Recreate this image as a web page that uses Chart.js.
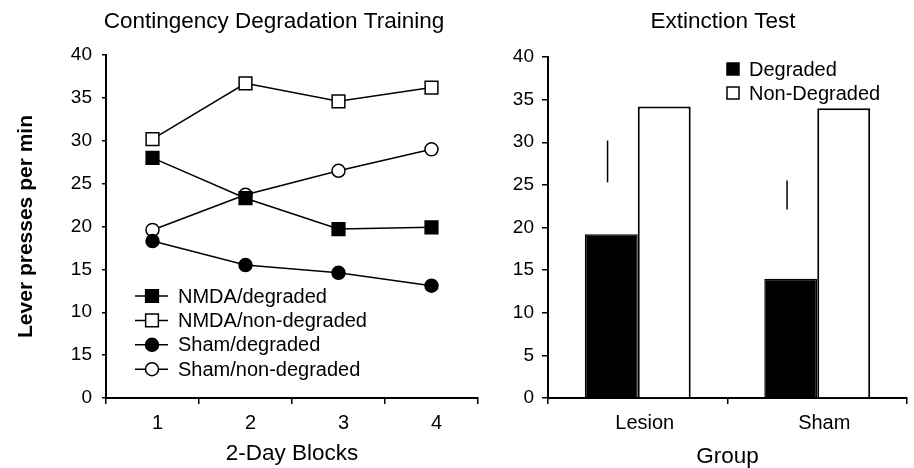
<!DOCTYPE html>
<html>
<head>
<meta charset="utf-8">
<script src="https://cdn.jsdelivr.net/npm/chart.js@4.4.1/dist/chart.umd.min.js"></script>
<style>
    html, body { margin: 0; padding: 0; background: #fff; overflow: hidden; width: 914px; height: 468px; }
    #left { position: absolute; left: 0; top: 0; }
    #right { position: absolute; left: 500px; top: 0; }
</style>
</head>
<body>
<canvas id="left" width="548" height="468"></canvas>
<canvas id="right" width="446" height="468"></canvas>
<script>
// left panel: training
const blocks = ['1', '2', '3', '4'];
const nmdaDegraded = [28.0, 23.3, 19.7, 19.9];
const nmdaNonDegraded = [30.2, 36.7, 34.6, 36.2];
const shamDegraded = [18.3, 15.5, 14.6, 13.1];
const shamNonDegraded = [19.6, 23.7, 26.5, 29.0];
// the printed figure labels the 5 tick as "15", kept as printed
const trainingTicks = ['0', '15', '10', '15', '20', '25', '30', '35', '40'];

// right panel: extinction test
const groups = ['Lesion', 'Sham'];
const degradedTest = [19.2, 14.0];
const nonDegradedTest = [34.2, 34.0];
const errLow = [25.3, 22.1];
const errHigh = [30.2, 25.5];
const testTicks = ['0', '5', '10', '15', '20', '25', '30', '35', '40'];

Chart.defaults.font.family = '"Liberation Sans", Arial, sans-serif';
Chart.defaults.color = '#000';

// legend with line + marker, drawn inside the plot
const lineLegend = {
    id: 'lineLegend',
    afterDraw(chart) {
        const { ctx, chartArea } = chart;
        ctx.save();
        chart.data.datasets.forEach((ds, i) => {
            const y = chartArea.top + 241 + i * 24.4;
            const x0 = chartArea.left + 29;
            ctx.strokeStyle = '#000';
            ctx.lineWidth = 1.5;
            ctx.beginPath();
            ctx.moveTo(x0, y);
            ctx.lineTo(x0 + 33, y);
            ctx.stroke();
            ctx.fillStyle = ds.pointBackgroundColor;
            Chart.helpers.drawPoint(ctx, {
                pointStyle: ds.pointStyle, radius: ds.pointRadius, rotation: 0, borderWidth: 1.5
            }, x0 + 17, y);
            ctx.fillStyle = '#000';
            ctx.font = '20px "Liberation Sans", Arial, sans-serif';
            ctx.textBaseline = 'middle';
            ctx.fillText(ds.label, x0 + 43, y + 1);
        });
        ctx.restore();
    }
};

// square legend for the bar panel
const boxLegend = {
    id: 'boxLegend',
    afterDraw(chart) {
        const { ctx, chartArea } = chart;
        ctx.save();
        chart.data.datasets.forEach((ds, i) => {
            const y = chartArea.top + 12 + i * 24;
            const x0 = chartArea.left + 179;
            ctx.fillStyle = ds.backgroundColor;
            ctx.fillRect(x0, y - 6, 12, 12);
            ctx.strokeStyle = '#000';
            ctx.lineWidth = 1.5;
            ctx.strokeRect(x0, y - 6, 12, 12);
            ctx.fillStyle = '#000';
            ctx.font = '20px "Liberation Sans", Arial, sans-serif';
            ctx.textBaseline = 'middle';
            ctx.fillText(ds.label, x0 + 22, y + 1);
        });
        ctx.restore();
    }
};

// the lone error lines above the degraded bars
const errorLines = {
    id: 'errorLines',
    afterDatasetsDraw(chart) {
        const { ctx } = chart;
        const yScale = chart.scales.y;
        const meta = chart.getDatasetMeta(0);
        ctx.save();
        ctx.strokeStyle = '#000';
        ctx.lineWidth = 1.5;
        meta.data.forEach((bar, i) => {
            const x = bar.x - bar.width * 0.07;
            ctx.beginPath();
            ctx.moveTo(x, yScale.getPixelForValue(errLow[i]));
            ctx.lineTo(x, yScale.getPixelForValue(errHigh[i]));
            ctx.stroke();
        });
        ctx.restore();
    }
};

function lineSet(label, data, style, filled) {
    return {
        label: label,
        data: data,
        borderColor: '#000',
        borderWidth: 1.5,
        tension: 0,
        pointStyle: style,
        pointRadius: style === 'rect' ? 9 : 6.5,
        pointBorderColor: '#000',
        pointBorderWidth: 1.5,
        pointBackgroundColor: filled ? '#000' : '#fff'
    };
}

// empty right-hand axis, only there to keep space so the title stays centred on the canvas
function spacerAxis(w) {
    return {
        position: 'right',
        display: true,
        grid: { display: false },
        border: { display: false },
        ticks: { display: false },
        afterFit: (s) => { s.width = w; }
    };
}

new Chart(document.getElementById('left'), {
    type: 'line',
    data: {
        labels: blocks,
        datasets: [
            lineSet('NMDA/degraded', nmdaDegraded, 'rect', true),
            lineSet('NMDA/non-degraded', nmdaNonDegraded, 'rect', false),
            lineSet('Sham/degraded', shamDegraded, 'circle', true),
            lineSet('Sham/non-degraded', shamNonDegraded, 'circle', false)
        ]
    },
    options: {
        responsive: false,
        animation: false,
        layout: { padding: 0 },
        plugins: {
            legend: { display: false },
            tooltip: { enabled: false },
            title: {
                display: true,
                text: 'Contingency Degradation Training',
                font: { size: 22.5, weight: 'normal' },
                padding: { top: 8, bottom: 20 }
            }
        },
        scales: {
            x: {
                offset: true,
                grid: { offset: true, drawOnChartArea: false, tickLength: 6, color: '#000', lineWidth: 1.5 },
                border: { color: '#000', width: 2 },
                ticks: { font: { size: 20 }, padding: 7, labelOffset: 5 },
                title: { display: true, text: '2-Day Blocks', font: { size: 22.5 }, padding: { top: 0, bottom: 1 } },
                afterFit: (s) => { s.height = 70; }
            },
            y: {
                min: 0,
                max: 40,
                ticks: { stepSize: 5, font: { size: 19 }, padding: 10, callback: (v, i) => trainingTicks[i] },
                grid: { drawOnChartArea: false, tickLength: 4, color: '#000', lineWidth: 1.5 },
                border: { color: '#000', width: 2 },
                title: {
                    display: true,
                    text: 'Lever presses per min',
                    font: { size: 21, weight: 'bold' },
                    padding: { top: 14, bottom: 0 }
                },
                afterFit: (s) => { s.width = 106; }
            },
            pad: spacerAxis(70)
        }
    },
    plugins: [lineLegend]
});

new Chart(document.getElementById('right'), {
    type: 'bar',
    data: {
        labels: groups,
        datasets: [
            { label: 'Degraded', data: degradedTest, backgroundColor: '#000', borderColor: '#000', borderWidth: 1.5 },
            { label: 'Non-Degraded', data: nonDegradedTest, backgroundColor: '#fff', borderColor: '#000',
              borderWidth: { top: 2, left: 2, right: 2, bottom: 0 } }
        ]
    },
    options: {
        responsive: false,
        animation: false,
        categoryPercentage: 0.59,
        barPercentage: 1.0,
        layout: { padding: 0 },
        plugins: {
            legend: { display: false },
            tooltip: { enabled: false },
            title: {
                display: true,
                text: 'Extinction Test',
                font: { size: 22.5, weight: 'normal' },
                padding: { top: 8, bottom: 22 }
            }
        },
        scales: {
            x: {
                grid: { offset: true, drawOnChartArea: false, tickLength: 6, color: '#000', lineWidth: 1.5 },
                border: { color: '#000', width: 2 },
                ticks: { font: { size: 20 }, padding: 7, labelOffset: 7 },
                title: { display: true, text: 'Group', font: { size: 22.5, lineHeight: 1 }, padding: { top: 0, bottom: 0 } },
                afterFit: (s) => { s.height = 70; }
            },
            y: {
                min: 0,
                max: 40,
                ticks: { stepSize: 5, font: { size: 19 }, padding: 8, callback: (v, i) => testTicks[i] },
                grid: { drawOnChartArea: false, tickLength: 6, color: '#000', lineWidth: 1.5 },
                border: { color: '#000', width: 2 },
                afterFit: (s) => { s.width = 48; }
            },
            pad: spacerAxis(39)
        }
    },
    plugins: [boxLegend, errorLines]
});
</script>
</body>
</html>
